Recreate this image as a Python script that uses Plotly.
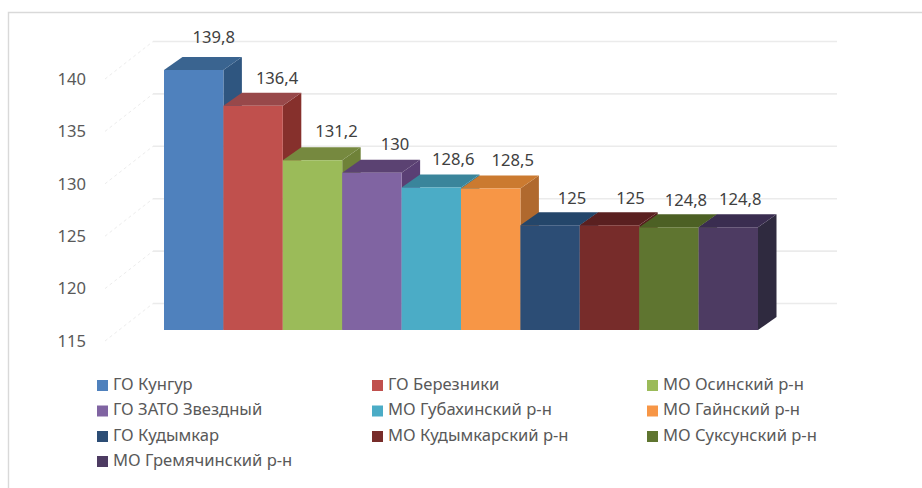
import plotly.graph_objects as go

categories = ["ГО Кунгур", "ГО Березники", "МО Осинский р-н", "ГО ЗАТО Звездный",
              "МО Губахинский р-н", "МО Гайнский р-н", "ГО Кудымкар",
              "МО Кудымкарский р-н", "МО Суксунский р-н", "МО Гремячинский р-н"]
values = [139.8, 136.4, 131.2, 130, 128.6, 128.5, 125, 125, 124.8, 124.8]
labels = ["139,8", "136,4", "131,2", "130", "128,6", "128,5", "125", "125", "124,8", "124,8"]
front_colors = ["#4F81BD", "#C0504D", "#9BBB59", "#8064A2", "#4BACC6",
                "#F79646", "#2C4D75", "#772C2A", "#5F7530", "#4D3B62"]
top_colors = ["#3A6490", "#98484A", "#76893F", "#5B4272", "#3A859B",
              "#CB7A30", "#24466A", "#5A2020", "#4C6024", "#3A2D50"]
side_colors = ["#2F5680", "#86302C", "#6F8238", "#5A3F74", "#2F7F95",
               "#B0692E", "#1D3857", "#551D1C", "#455620", "#2F2A3F"]
tick_vals = [115, 120, 125, 130, 135, 140]

W, H = 922, 488
PX_X = 59.4      # pixels per bar
X0 = 164         # pixel of the left edge of the first bar
PX_V = 10.48     # pixels per unit
Y115 = 341       # pixel of tick 115
BAR_Y115 = 330   # pixel of the bar base
BASE = 115
DX = 18.5 / PX_X
DY = 13 / PX_V
SHIFT = (Y115 - BAR_Y115) / PX_V
WALL_X = (153 - X0) / PX_X
WALL_DY = 37.5 / PX_V
AXIS_X = (105 - X0) / PX_X
WALL_R = (837 - X0) / PX_X
label_dx = [20, 24, 24, 23, 22, 22, 22, 21, 17, 12]
label_dy = [31, 26, 27, 27, 27, 27, 25, 25, 25, 26]
FONT = "Noto Sans"
TEXT_SIZE = 16.6


def px_x(p):
    return (p - X0) / PX_X


def px_y(p):
    return BASE + (Y115 - p) / PX_V


fig = go.Figure()

for t in tick_vals:
    fig.add_trace(go.Scatter(x=[AXIS_X, WALL_X], y=[t, t + WALL_DY], mode="lines",
                             line=dict(color="#ECECEC", width=1, dash="dot"),
                             showlegend=False, hoverinfo="skip"))
    fig.add_trace(go.Scatter(x=[WALL_X, WALL_R], y=[t + WALL_DY, t + WALL_DY], mode="lines",
                             line=dict(color="#EBEBEB", width=1.6),
                             showlegend=False, hoverinfo="skip"))

for i, v in enumerate(values):
    vm = v + SHIFT
    bm = BASE + SHIFT
    fig.add_trace(go.Scatter(x=[i + 1, i + 1 + DX, i + 1 + DX, i + 1, i + 1],
                             y=[bm, bm + DY, vm + DY, vm, bm],
                             mode="lines", fill="toself", fillcolor=side_colors[i],
                             line=dict(width=0), showlegend=False, hoverinfo="skip"))
    fig.add_trace(go.Scatter(x=[i, i + DX, i + 1 + DX, i + 1, i],
                             y=[vm, vm + DY, vm + DY, vm, vm],
                             mode="lines", fill="toself", fillcolor=top_colors[i],
                             line=dict(width=0), showlegend=False, hoverinfo="skip"))

fig.add_trace(go.Scatter(
    x=[i + 0.5 + label_dx[i] / PX_X for i in range(len(values))],
    y=[v + SHIFT + label_dy[i] / PX_V for i, v in enumerate(values)],
    text=labels, mode="text", textposition="middle center",
    textfont=dict(family=FONT, size=TEXT_SIZE, color="#404040"),
    showlegend=False, hoverinfo="skip"))

# legend block: three columns, four rows
legend_rows = [385.5, 411, 436.5, 461.5]
legend_cols = [102.5, 377.5, 652.5]
fig.add_trace(go.Scatter(
    x=[px_x(legend_cols[i % 3]) for i in range(len(categories))],
    y=[px_y(legend_rows[i // 3]) for i in range(len(categories))],
    mode="markers",
    marker=dict(symbol="square", size=11, color=front_colors, line=dict(width=0)),
    showlegend=False, hoverinfo="skip"))
fig.add_trace(go.Scatter(
    x=[px_x(legend_cols[i % 3] + 10.5) for i in range(len(categories))],
    y=[px_y(legend_rows[i // 3]) for i in range(len(categories))],
    text=categories, mode="text", textposition="middle right",
    textfont=dict(family=FONT, size=TEXT_SIZE, color="#595959"),
    showlegend=False, hoverinfo="skip"))

for i, (c, v) in enumerate(zip(categories, values)):
    fig.add_trace(go.Bar(x=[i + 0.5], y=[v - BASE], base=BASE, width=1, yaxis="y2",
                         name=c, showlegend=False,
                         marker=dict(color=front_colors[i], line=dict(width=0))))

fig.update_layout(
    width=W, height=H, autosize=False,
    margin=dict(l=0, r=0, t=0, b=0, pad=0),
    paper_bgcolor="white", plot_bgcolor="rgba(0,0,0,0)",
    barmode="overlay", showlegend=False,
    font=dict(family=FONT, color="#595959"),
    xaxis=dict(range=[px_x(0), px_x(W)], domain=[0, 1], visible=False, fixedrange=True),
    yaxis=dict(range=[BASE - (H - Y115) / PX_V, BASE + Y115 / PX_V], domain=[0, 1],
               tickvals=tick_vals, showgrid=False, zeroline=False, showline=False,
               anchor="free", position=86 / W, ticks="",
               tickfont=dict(size=TEXT_SIZE, color="#595959")),
    yaxis2=dict(range=[BASE - (H - BAR_Y115) / PX_V, BASE + BAR_Y115 / PX_V], domain=[0, 1],
                overlaying="y", visible=False),
    shapes=[dict(type="path", xref="paper", yref="paper",
                 path=f"M {8.5/W} {1-488/H} L {8.5/W} {1-12.5/H} L {922/W} {1-12.5/H}",
                 line=dict(color="#D9D9D9", width=1.4))],
)

fig.write_html("out.html", config={"displayModeBar": False},
               post_script="document.body.style.margin='0';")
